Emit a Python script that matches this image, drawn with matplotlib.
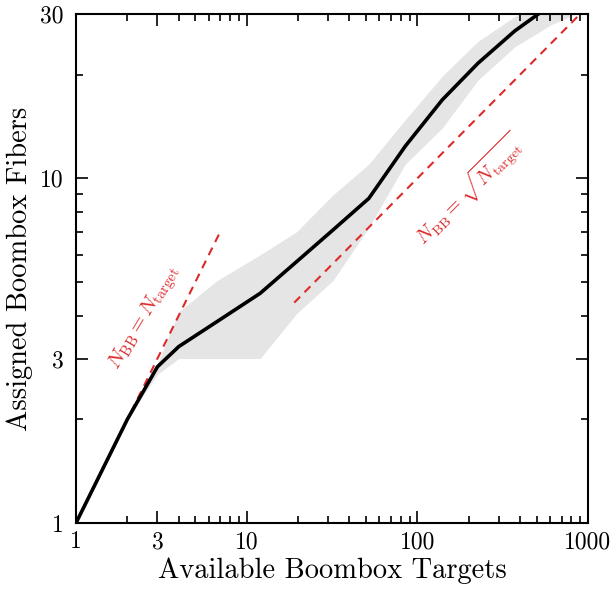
import matplotlib
matplotlib.use("Agg")
import matplotlib.pyplot as plt
from matplotlib.ticker import FixedLocator, NullFormatter

plt.rcParams["font.family"] = "serif"
plt.rcParams["font.serif"] = ["cmr10", "DejaVu Serif"]
plt.rcParams["mathtext.fontset"] = "cm"
plt.rcParams["axes.unicode_minus"] = False

# binned number of targets and fibers assigned (median + spread)
n_targets = [1, 2, 3, 4, 6.7, 12, 19.6, 32, 52, 85, 140, 227, 373, 614, 1000]
fibers_median = [1, 2, 2.84, 3.25, 3.84, 4.64, 5.73, 7.08, 8.75, 12.4, 16.9, 21.6, 26.8, 32, 36]
fibers_low = [1, 2, 2.7, 3.0, 3.0, 3.0, 4.05, 5.05, 7.2, 11.0, 14.0, 19.3, 24.1, 28.0, 31]
fibers_high = [1, 2, 2.9, 4.1, 5.05, 6.0, 7.0, 8.95, 11.0, 14.8, 19.8, 25.0, 29.5, 34, 38]

# reference relations
linear_x = [2.1, 7.0]
linear_y = [2.1, 7.0]
sqrt_x = [19.0, 1000.0]
sqrt_y = [4.36, 31.62]

x_ticks = [1, 3, 10, 100, 1000]
x_tick_labels = ["1", "3", "10", "100", "1000"]
y_ticks = [1, 3, 10, 30]
y_tick_labels = ["1", "3", "10", "30"]

red = "#dc2a2a"

figure = plt.figure(figsize=(6.16, 5.90), dpi=100)
axis = figure.add_axes([0.1234, 0.1136, 0.8311, 0.8627])

axis.fill_between(n_targets, fibers_low, fibers_high, color="#e5e5e5", linewidth=0, zorder=1)
axis.plot(n_targets, fibers_median, color="black", linewidth=2.6, zorder=3)
axis.plot(linear_x, linear_y, color=red, linestyle="--", linewidth=1.5, dashes=(4, 3), zorder=2)
axis.plot(sqrt_x, sqrt_y, color=red, linestyle="--", linewidth=1.5, dashes=(4, 3), zorder=2)

axis.text(2.54, 3.94, r"$N_{\rm BB} = N_{\rm target}$", color=red, fontsize=15,
          rotation=59, ha="center", va="center")
axis.text(203, 9.25, r"$N_{\rm BB} = \sqrt{N_{\rm target}}$", color=red, fontsize=14.5,
          rotation=45, ha="center", va="center")

axis.set_xscale("log")
axis.set_yscale("log")
axis.set_xlim(1, 1000)
axis.set_ylim(1, 30)

axis.xaxis.set_major_locator(FixedLocator(x_ticks))
axis.set_xticklabels(x_tick_labels)
axis.yaxis.set_major_locator(FixedLocator(y_ticks))
axis.set_yticklabels(y_tick_labels)
axis.xaxis.set_minor_formatter(NullFormatter())
axis.yaxis.set_minor_formatter(NullFormatter())

axis.tick_params(which="both", direction="in", top=True, right=True, labelsize=17, width=1.2)
axis.tick_params(which="major", length=8.5)
axis.tick_params(which="minor", length=4.7)
axis.tick_params(axis="x", which="major", pad=6)
axis.tick_params(axis="y", which="major", pad=9)
for spine in axis.spines.values():
    spine.set_linewidth(1.5)

axis.set_xlabel("Available Boombox Targets", fontsize=20.5, labelpad=3)
axis.set_ylabel("Assigned Boombox Fibers", fontsize=20.5, labelpad=5)

figure.savefig("out.png", dpi=100)
